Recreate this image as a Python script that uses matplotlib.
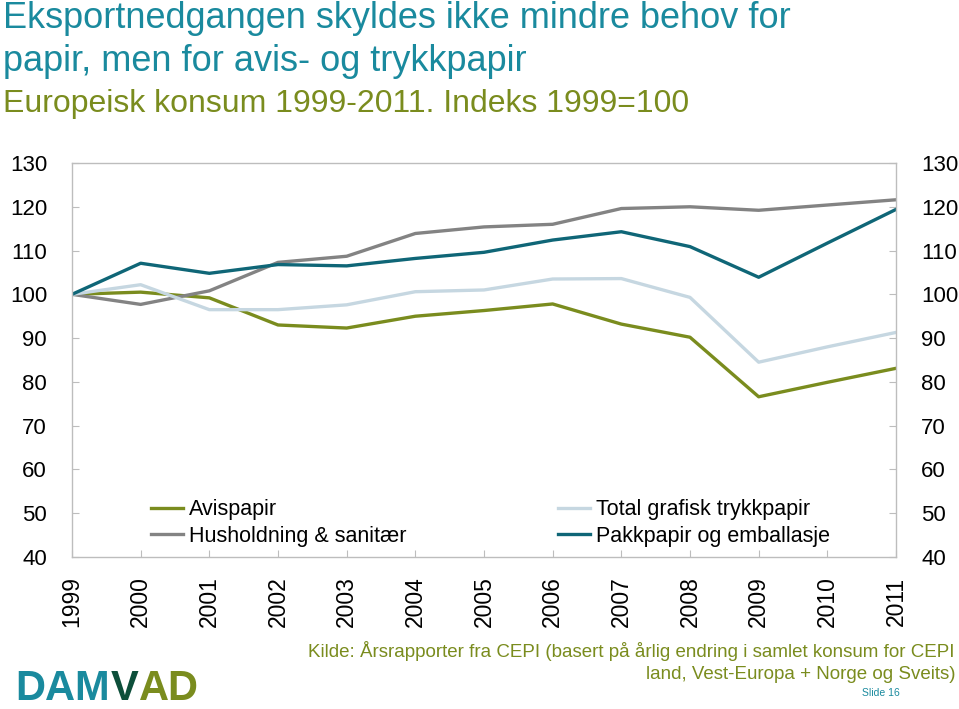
import numpy as np
import matplotlib
matplotlib.use('Agg')
import matplotlib.pyplot as plt

plt.rcParams['font.family'] = ['Liberation Sans', 'DejaVu Sans']

# Data (indeks 1999=100)
years = [1999, 2000, 2001, 2002, 2003, 2004, 2005, 2006, 2007, 2008, 2009, 2010, 2011]
avispapir = [100, 100.5, 99.2, 93.0, 92.3, 95.0, 96.3, 97.8, 93.2, 90.2, 76.6, 79.9, 83.1]
grafisk = [100, 102.2, 96.5, 96.5, 97.6, 100.6, 101.0, 103.5, 103.6, 99.3, 84.5, 88.0, 91.3]
husholdning = [100, 97.7, 100.8, 107.3, 108.7, 113.9, 115.4, 116.0, 119.6, 120.0, 119.2, 120.4, 121.6]
pakkpapir = [100, 107.1, 104.8, 106.8, 106.5, 108.2, 109.6, 112.4, 114.3, 110.9, 103.9, 111.7, 119.4]

olive = '#7a8c1e'
gray = '#838383'
lightblue = '#c6d7e1'
teal = '#0f6677'
title_col = '#1a8a9e'
spine_col = '#bdbdbd'

fig = plt.figure(figsize=(9.59, 7.09), dpi=100)
ax = fig.add_axes([72 / 959, 1 - 557 / 709, (896 - 72) / 959, (557 - 163) / 709])

lw = 2.4
ax.plot(years, avispapir, color=olive, lw=lw, label='Avispapir')
ax.plot(years, husholdning, color=gray, lw=lw, label='Husholdning & sanitær')
ax.plot(years, grafisk, color=lightblue, lw=lw, label='Total grafisk trykkpapir')
ax.plot(years, pakkpapir, color=teal, lw=lw, label='Pakkpapir og emballasje')

ax.set_xlim(1999, 2011)
ax.set_ylim(40, 130)
ax.set_yticks(np.arange(40, 131, 10))
ax.set_xticks(years)
ax.set_xticklabels([str(y) for y in years], rotation=90)
for s in ax.spines.values():
    s.set_color(spine_col)
    s.set_linewidth(1.0)
ax.tick_params(axis='both', direction='in', color=spine_col, length=5, labelsize=16.5,
               labelcolor='black')
ax.tick_params(axis='y', pad=18, labelsize=16, right=True, labelright=True)
ax.tick_params(axis='x', pad=14)

leg = ax.legend(loc='lower left', bbox_to_anchor=(0.072, -0.023), ncol=2, frameon=False,
                fontsize=15.5, handlelength=1.5, handletextpad=0.3, columnspacing=7.0,
                labelspacing=0.25)

# titles
fig.text(0.003, 1 - 28 / 709, 'Eksportnedgangen skyldes ikke mindre behov for',
         fontsize=26, color=title_col, ha='left', va='baseline')
fig.text(0.003, 1 - 71 / 709, 'papir, men for avis- og trykkpapir',
         fontsize=26, color=title_col, ha='left', va='baseline')
fig.text(0.003, 1 - 112 / 709, 'Europeisk konsum 1999-2011. Indeks 1999=100',
         fontsize=23, color=olive, ha='left', va='baseline')

# source
fig.text(955 / 959, 1 - 657 / 709,
         'Kilde: Årsrapporter fra CEPI (basert på årlig endring i samlet konsum for CEPI',
         fontsize=13.5, color=olive, ha='right', va='baseline')
fig.text(955 / 959, 1 - 679 / 709, 'land, Vest-Europa + Norge og Sveits)',
         fontsize=13.5, color=olive, ha='right', va='baseline')
fig.text(900 / 959, 1 - 696 / 709, 'Slide 16', fontsize=7.5, color=title_col,
         ha='right', va='baseline')

# logo, pieces placed one after another
renderer = fig.canvas.get_renderer()
x0 = 15
for txt, col in [('DAM', '#1a8a9e'), ('V', '#0d4f3a'), ('AD', olive)]:
    t = fig.text(x0 / 959, 1 - 700 / 709, txt, fontsize=30, fontweight='bold', color=col,
                 ha='left', va='baseline')
    x0 = t.get_window_extent(renderer).x1 + 1

fig.savefig('out.png', dpi=100)
